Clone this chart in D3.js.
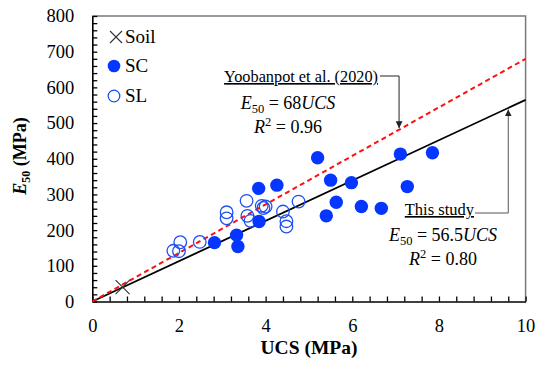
<!DOCTYPE html>
<html>
<head>
<meta charset="utf-8">
<script src="https://cdn.jsdelivr.net/npm/d3@7"></script>
<style>
  body { margin: 0; background: #fff; }
</style>
</head>
<body>
<svg id="canvas" width="543" height="365" font-family="'Liberation Serif', 'Times New Roman', serif"></svg>
<script>
// data (UCS in MPa, E50 in MPa)
var scUcs = [2.82, 3.33, 3.36, 3.84, 3.85, 4.26, 5.20, 5.40, 5.50, 5.63, 5.98, 6.21, 6.67, 7.11, 7.27, 7.85]
var scE50 = [165, 186, 154, 317, 224, 326, 403, 240, 340, 278, 333, 266, 261, 413, 322, 417]
var slUcs = [1.87, 2.03, 2.00, 2.48, 3.10, 3.10, 3.56, 3.58, 3.65, 3.91, 4.00, 3.95, 4.40, 4.48, 4.48, 4.76]
var slE50 = [142, 166, 141, 167, 250, 233, 282, 240, 226, 268, 266, 262, 252, 225, 210, 280]
var soilUcs = [0.7]
var soilE50 = [40]
// fitted lines E50 = k * UCS
var fitThisStudy = 56.5
var fitYoobanpot = 68
var xTicks = [0, 2, 4, 6, 8, 10]
var yTicks = [0, 100, 200, 300, 400, 500, 600, 700, 800]

var margin = { top: 16, right: 17.4, bottom: 63.5, left: 92.3 }
var width = 543 - margin.left - margin.right
var height = 365 - margin.top - margin.bottom

var svg = d3.select('#canvas')
var g = svg.append('g').attr('transform', 'translate(' + margin.left + ',' + margin.top + ')')

var x = d3.scaleLinear().domain([0, 10]).range([0, width])
var y = d3.scaleLinear().domain([0, 800]).range([height, 0])

// frame (top and right in grey)
g.append('path')
  .attr('d', 'M0,0H' + width + 'V' + height)
  .attr('fill', 'none')
  .attr('stroke', '#7a7a7a')
  .attr('stroke-width', 1.5)

// minor ticks every 0.4 / 20, labels on the majors only
var xMinor = d3.range(0, 10.001, 0.4).map(function(d) { return +d.toFixed(1) })
var yMinor = d3.range(0, 801, 20)

var xAxis = d3.axisBottom(x)
  .tickValues(xMinor)
  .tickSizeInner(-5)
  .tickSizeOuter(0)
  .tickPadding(17)
  .tickFormat(function(d) { return xTicks.indexOf(d) >= 0 ? d : '' })

var yAxis = d3.axisLeft(y)
  .tickValues(yMinor)
  .tickSizeInner(-5)
  .tickSizeOuter(0)
  .tickPadding(18)
  .tickFormat(function(d) { return yTicks.indexOf(d) >= 0 ? d : '' })

var gx = g.append('g').attr('transform', 'translate(0,' + height + ')').call(xAxis)
var gy = g.append('g').call(yAxis)
;[gx, gy].forEach(function(ax) {
  ax.attr('font-family', null).attr('font-size', 18.5)
  ax.selectAll('text').attr('fill', '#000')
  ax.selectAll('line').attr('stroke', '#000').attr('stroke-width', 1.3)
  ax.select('.domain').attr('stroke', '#000').attr('stroke-width', 1.6)
})

// fitted lines
var line = d3.line().x(function(d) { return x(d[0]) }).y(function(d) { return y(d[1]) })
g.append('path')
  .datum([[0, 0], [10, fitThisStudy * 10]])
  .attr('d', line)
  .attr('fill', 'none')
  .attr('stroke', '#000')
  .attr('stroke-width', 1.8)
g.append('path')
  .datum([[0, 0], [10, fitYoobanpot * 10]])
  .attr('d', line)
  .attr('fill', 'none')
  .attr('stroke', '#ff1010')
  .attr('stroke-width', 2)
  .attr('stroke-dasharray', '5,3.5')

// points
var blue = '#0536ff'
g.selectAll('.sl')
  .data(d3.zip(slUcs, slE50))
  .enter()
  .append('circle')
  .attr('class', 'sl')
  .attr('cx', function(d) { return x(d[0]) })
  .attr('cy', function(d) { return y(d[1]) })
  .attr('r', 6.3)
  .attr('fill', 'none')
  .attr('stroke', '#1f50f0')
  .attr('stroke-width', 1.3)

g.selectAll('.sc')
  .data(d3.zip(scUcs, scE50))
  .enter()
  .append('circle')
  .attr('class', 'sc')
  .attr('cx', function(d) { return x(d[0]) })
  .attr('cy', function(d) { return y(d[1]) })
  .attr('r', 6.7)
  .attr('fill', blue)

function cross(sel, cx, cy, s) {
  sel.append('path')
    .attr('d', 'M' + (cx - s) + ',' + (cy - s) + 'L' + (cx + s) + ',' + (cy + s) +
      'M' + (cx - s) + ',' + (cy + s) + 'L' + (cx + s) + ',' + (cy - s))
    .attr('stroke', '#333')
    .attr('stroke-width', 1.1)
    .attr('fill', 'none')
}
d3.zip(soilUcs, soilE50).forEach(function(d) { cross(g, x(d[0]), y(d[1]), 7) })

// legend
var legend = svg.append('g').attr('font-size', 19)
cross(legend, 116, 37, 6)
legend.append('text').attr('x', 125).attr('y', 43).text('Soil')
legend.append('circle').attr('cx', 114).attr('cy', 66).attr('r', 6.3).attr('fill', blue)
legend.append('text').attr('x', 125).attr('y', 72).text('SC')
legend.append('circle').attr('cx', 114).attr('cy', 96).attr('r', 5.8).attr('fill', 'none').attr('stroke', '#1f50f0').attr('stroke-width', 1.3)
legend.append('text').attr('x', 125).attr('y', 102).text('SL')

// arrow marker
svg.append('defs').append('marker')
  .attr('id', 'arrow')
  .attr('viewBox', '0 0 10 10')
  .attr('refX', 10).attr('refY', 5)
  .attr('markerWidth', 7).attr('markerHeight', 7)
  .attr('markerUnits', 'userSpaceOnUse')
  .attr('orient', 'auto')
  .append('path').attr('d', 'M0,0L10,5L0,10z').attr('fill', '#222')

// equation text: E50 = k UCS / R2 = r
function equation(cx, by, k, r2) {
  var t1 = svg.append('text').attr('x', cx).attr('y', by).attr('text-anchor', 'middle').attr('font-size', 18)
  t1.append('tspan').attr('font-style', 'italic').text('E')
  t1.append('tspan').attr('dy', 4).attr('font-size', 12.5).text('50')
  t1.append('tspan').attr('dy', -4).text(' = ' + k)
  t1.append('tspan').attr('font-style', 'italic').text('UCS')
  var t2 = svg.append('text').attr('x', cx).attr('y', by + 24).attr('text-anchor', 'middle').attr('font-size', 18)
  t2.append('tspan').attr('font-style', 'italic').text('R')
  t2.append('tspan').attr('dy', -7).attr('font-size', 12.5).text('2')
  t2.append('tspan').attr('dy', 7).text(' = ' + r2)
}

// Yoobanpot annotation
var yooX = 7.08
var ax1 = margin.left + x(yooX)
var ay1 = margin.top + y(fitYoobanpot * yooX)
svg.append('text').attr('x', 378).attr('y', 82).attr('text-anchor', 'end').attr('font-size', 16.3)
  .attr('text-decoration', 'underline').text('Yoobanpot et al. (2020)')
svg.append('path')
  .attr('d', 'M380,76H' + ax1 + 'V' + (ay1 - 1.5))
  .attr('fill', 'none').attr('stroke', '#222').attr('stroke-width', 1)
  .attr('marker-end', 'url(#arrow)')
equation(288, 109, fitYoobanpot, '0.96')

// This study annotation
var tsX = 9.6
var ax2 = margin.left + x(tsX)
var ay2 = margin.top + y(fitThisStudy * tsX)
svg.append('text').attr('x', 474).attr('y', 215).attr('text-anchor', 'end').attr('font-size', 16.5)
  .attr('text-decoration', 'underline').text('This study')
svg.append('path')
  .attr('d', 'M475,213H' + ax2 + 'V' + (ay2 + 1.5))
  .attr('fill', 'none').attr('stroke', '#555').attr('stroke-width', 1)
  .attr('marker-end', 'url(#arrow)')
equation(443, 241, fitThisStudy, '0.80')

// axis titles
svg.append('text')
  .attr('x', 309).attr('y', 354)
  .attr('text-anchor', 'middle')
  .attr('font-size', 19.5).attr('font-weight', 'bold')
  .text('UCS (MPa)')

var yt = svg.append('text')
  .attr('transform', 'translate(26,156) rotate(-90)')
  .attr('text-anchor', 'middle')
  .attr('font-size', 18).attr('font-weight', 'bold')
yt.append('tspan').attr('font-style', 'italic').text('E')
yt.append('tspan').attr('dy', 4).attr('font-size', 12).text('50')
yt.append('tspan').attr('dy', -4).text(' (MPa)')
</script>
</body>
</html>
